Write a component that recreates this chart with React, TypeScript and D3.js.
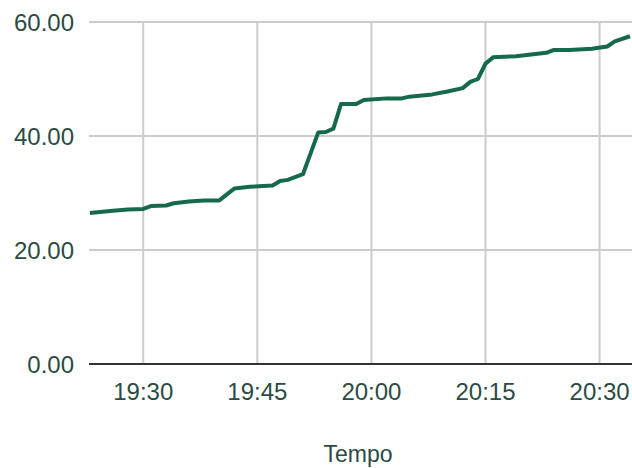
import { useEffect, useRef } from 'react';
import * as d3 from 'd3';

// minutes after 19:00
const minutes = [23, 26, 28, 30, 31, 33, 34, 36, 38, 40, 42, 44, 47, 48, 49, 51, 53, 54, 55, 56, 58, 59, 62, 64, 65, 68, 70, 72, 73, 74, 75, 76, 79, 83, 84, 86, 89, 91, 92, 94];
const values = [26.5, 26.9, 27.1, 27.2, 27.7, 27.8, 28.2, 28.5, 28.7, 28.7, 30.8, 31.1, 31.3, 32.1, 32.3, 33.3, 40.6, 40.7, 41.3, 45.6, 45.6, 46.3, 46.6, 46.6, 46.9, 47.3, 47.8, 48.4, 49.5, 50.0, 52.7, 53.8, 54.0, 54.6, 55.1, 55.1, 55.3, 55.7, 56.6, 57.5];
const yTicks = [0, 20, 40, 60];
const xTickMinutes = [30, 45, 60, 75, 90];
const xTitle = 'Tempo';

const W = 632;
const H = 468;
const textColor = '#2b4b44';
const lineColor = '#17694b';
const font = 'Arial, "Liberation Sans", sans-serif';

const toDate = (m: number) => new Date(2024, 0, 1, 19, m, 0);

export default function App() {
  const svgRef = useRef<SVGSVGElement>(null);

  useEffect(() => {
    if (!svgRef.current) return;
    const svg = d3.select(svgRef.current);
    svg.selectAll('*').remove();

    const data = minutes.map((m, i) => ({ t: toDate(m), v: values[i] }));

    const x = d3.scaleTime()
      .domain([toDate(minutes[0]), toDate(minutes[minutes.length - 1])])
      .range([90, 630]);
    const y = d3.scaleLinear().domain([0, 60]).range([364, 22]);

    // horizontal grid
    svg.append('g')
      .selectAll('line')
      .data(yTicks.filter(d => d !== 0))
      .enter().append('line')
      .attr('x1', 89).attr('x2', W)
      .attr('y1', d => y(d)).attr('y2', d => y(d))
      .attr('stroke', '#cccccc').attr('stroke-width', 2);

    // vertical grid
    const xTicks = xTickMinutes.map(toDate);
    svg.append('g')
      .selectAll('line')
      .data(xTicks)
      .enter().append('line')
      .attr('x1', d => x(d)).attr('x2', d => x(d))
      .attr('y1', y(60)).attr('y2', y(0))
      .attr('stroke', '#cccccc').attr('stroke-width', 2);

    // baseline
    svg.append('line')
      .attr('x1', 89).attr('x2', W)
      .attr('y1', y(0)).attr('y2', y(0))
      .attr('stroke', '#333333').attr('stroke-width', 2);

    // y labels
    svg.append('g')
      .selectAll('text')
      .data(yTicks)
      .enter().append('text')
      .attr('x', 74)
      .attr('y', d => y(d))
      .attr('dy', '0.36em')
      .attr('text-anchor', 'end')
      .attr('font-family', font)
      .attr('font-size', 24)
      .attr('fill', textColor)
      .text(d => d3.format('.2f')(d));

    // x labels
    svg.append('g')
      .selectAll('text')
      .data(xTicks)
      .enter().append('text')
      .attr('x', d => x(d))
      .attr('y', 400)
      .attr('text-anchor', 'middle')
      .attr('font-family', font)
      .attr('font-size', 24)
      .attr('fill', textColor)
      .text(d => d3.timeFormat('%H:%M')(d));

    svg.append('text')
      .attr('x', 358)
      .attr('y', 462)
      .attr('text-anchor', 'middle')
      .attr('font-family', font)
      .attr('font-size', 23)
      .attr('fill', textColor)
      .text(xTitle);

    const line = d3.line<{ t: Date; v: number }>()
      .x(d => x(d.t))
      .y(d => y(d.v));

    svg.append('path')
      .datum(data)
      .attr('fill', 'none')
      .attr('stroke', lineColor)
      .attr('stroke-width', 4)
      .attr('stroke-linejoin', 'round')
      .attr('d', line);
  }, []);

  return (
    <svg
      ref={svgRef}
      width={W}
      height={H}
      style={{ position: 'absolute', left: 0, top: 0, background: '#fff' }}
    />
  );
}
